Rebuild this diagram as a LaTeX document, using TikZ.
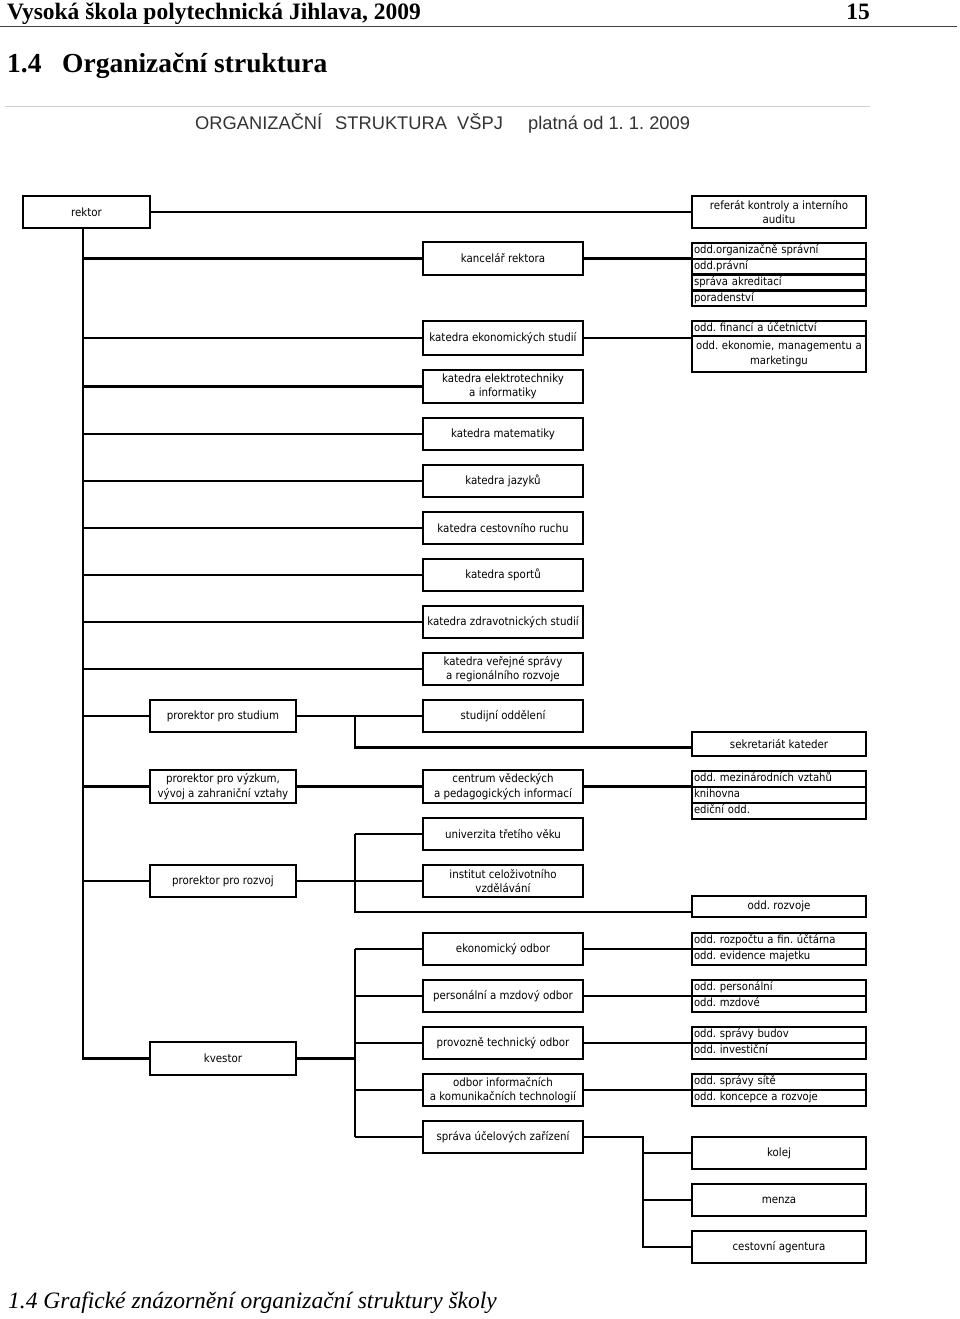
\documentclass[tikz,border=0pt]{standalone}
\usepackage{fontspec}
\setmainfont{Liberation Serif}
\newfontfamily\boxfont{DejaVu Sans Condensed}
\newfontfamily\arialf{Liberation Sans}
\frenchspacing
\begin{document}
\begin{tikzpicture}[x=1pt,y=-1pt,
  box/.style={draw, line width=2.7pt, rectangle, inner sep=1pt, align=center,
    font=\boxfont\fontsize{11.4}{14.5}\selectfont},
  mbox/.style={box, minimum width=160pt, minimum height=32pt},
  lbox/.style={box, minimum width=146pt, minimum height=32pt},
  rbox/.style={box, minimum width=174pt, minimum height=32pt},
  rowbox/.style={draw, line width=2.3pt, rectangle, minimum width=174pt, text width=170pt,
    align=left, inner xsep=2pt, inner ysep=0pt, text height=8.3pt, text depth=2.6pt,
    font=\boxfont\fontsize{11.2}{14.5}\selectfont},
  link/.style={line width=2.3pt},
  hdr/.style={anchor=base west, inner sep=0pt, font=\bfseries\fontsize{23.5}{28}\selectfont},
  sub/.style={anchor=base west, inner sep=0pt, text=black!80, font=\arialf\fontsize{18.3}{22}\selectfont}
]
\useasboundingbox (0,0) rectangle (960,1319);
\fill[white] (0,0) rectangle (960,1319);

% page header
\node[hdr] (head) at (7,20) {Vysoká škola polytechnická Jihlava, 2009};
\node[hdr, anchor=base east] (page) at (870,20) {15};
\draw[line width=1.3pt, black!75] (0,26.5) -- (957,26.5);
\node[hdr, font=\bfseries\fontsize{27.5}{32}\selectfont] (secnum) at (7,73) {1.4};
\node[hdr, font=\bfseries\fontsize{27.5}{32}\selectfont] (sectitle) at (62,73) {Organizační struktura};
\draw[line width=1pt, black!18] (5,107) -- (870,107);
\node[sub] (s1) at (195,130) {ORGANIZAČNÍ};
\node[sub] (s2) at (335,130) {STRUKTURA};
\node[sub] (s3) at (457,130) {VŠPJ};
\node[sub] (s4) at (528,130) {platná od 1. 1. 2009};

% boxes
\node[box, minimum width=127pt, minimum height=32pt] (rektor) at (86.5,212) {rektor};
\node[rbox] (ref) at (779,212) {referát kontroly a interního\\auditu};

\node[mbox, minimum height=33pt] (kanc) at (503,258.5) {kancelář rektora};
\node[rowbox, minimum height=15.75pt] (odd1a) at (779,251) {odd.organizačně správní};
\node[rowbox, minimum height=15.75pt] (odd1b) at (779,266.75) {odd.právní};
\node[rowbox, minimum height=15.75pt] (odd1c) at (779,282.5) {správa akreditací};
\node[rowbox, minimum height=15.75pt] (odd1d) at (779,298.25) {poradenství};

\node[mbox, minimum height=34pt] (kes) at (503,338) {katedra ekonomických studií};
\node[rowbox, minimum height=15pt] (odd2a) at (779,328.5) {odd. financí a účetnictví};
\node[rowbox, minimum height=36pt, align=center, text height=, text depth=] (odd2b) at (779,354) {odd. ekonomie, managementu a\\marketingu};

\node[mbox, minimum height=33pt] (kel) at (503,386.5) {katedra elektrotechniky\\a informatiky};
\node[mbox] (kmat) at (503,434) {katedra matematiky};
\node[mbox] (kjaz) at (503,481) {katedra jazyků};
\node[mbox] (kcr) at (503,528) {katedra cestovního ruchu};
\node[mbox] (ksp) at (503,575) {katedra sportů};
\node[mbox] (kzd) at (503,622) {katedra zdravotnických studií};
\node[mbox] (kvs) at (503,669) {katedra veřejné správy\\a regionálního rozvoje};

\node[lbox] (pstud) at (223,716) {prorektor pro studium};
\node[mbox] (stod) at (503,716) {studijní oddělení};
\node[rbox, minimum height=24pt] (sek) at (779,744) {sekretariát kateder};

\node[lbox, minimum height=33pt] (pvyz) at (223,786.5) {prorektor pro výzkum,\\vývoj a zahraniční vztahy};
\node[mbox, minimum height=33pt] (cvpi) at (503,786.5) {centrum vědeckých\\a pedagogických informací};
\node[rowbox, minimum height=16pt] (odd3a) at (779,779) {odd. mezinárodních vztahů};
\node[rowbox, minimum height=16pt] (odd3b) at (779,795) {knihovna};
\node[rowbox, minimum height=16pt] (odd3c) at (779,811) {ediční odd.};

\node[mbox] (u3v) at (503,834) {univerzita třetího věku};
\node[lbox] (proz) at (223,881) {prorektor pro rozvoj};
\node[mbox] (icv) at (503,881) {institut celoživotního\\vzdělávání};
\node[rbox, minimum height=21pt] (orozv) at (779,906.5) {odd. rozvoje};

\node[mbox] (eko) at (503,949) {ekonomický odbor};
\node[rowbox, minimum height=16pt] (odd4a) at (779,941) {odd. rozpočtu a fin. účtárna};
\node[rowbox, minimum height=16pt] (odd4b) at (779,957) {odd. evidence majetku};

\node[mbox] (pers) at (503,996) {personální a mzdový odbor};
\node[rowbox, minimum height=16pt] (odd5a) at (779,988) {odd. personální};
\node[rowbox, minimum height=16pt] (odd5b) at (779,1004) {odd. mzdové};

\node[mbox] (prov) at (503,1043) {provozně technický odbor};
\node[rowbox, minimum height=16pt] (odd6a) at (779,1035) {odd. správy budov};
\node[rowbox, minimum height=16pt] (odd6b) at (779,1051) {odd. investiční};

\node[lbox, minimum height=33pt] (kv) at (223,1058.5) {kvestor};

\node[mbox] (ikt) at (503,1090) {odbor informačních\\a komunikačních technologií};
\node[rowbox, minimum height=16pt] (odd7a) at (779,1082) {odd. správy sítě};
\node[rowbox, minimum height=16pt] (odd7b) at (779,1098) {odd. koncepce a rozvoje};

\node[mbox] (suz) at (503,1137) {správa účelových zařízení};
\node[rbox] (kolej) at (779,1153) {kolej};
\node[rbox] (menza) at (779,1200) {menza};
\node[rbox] (cag) at (779,1247) {cestovní agentura};

% connectors
\coordinate (T) at ([xshift=-3.5pt]rektor.south);
\draw[link] (T) |- (kv.west);
\foreach \n in {kanc,kes,kel,kmat,kjaz,kcr,ksp,kzd,kvs,pstud,pvyz,proz}
  \draw[link] (T |- \n.west) -- (\n.west);
\draw[link] (rektor.east) -- (ref.west);
\draw[link] (kanc.east) -- (kanc.east -| odd1a.west);
\draw[link] (kes.east) -- (kes.east -| odd2a.west);

\draw[link] (pstud.east) -- (stod.west);
\coordinate (S) at (355,716);
\draw[link] (S) |- ([yshift=-3.5pt]sek.west);

\draw[link] (pvyz.east) -- (cvpi.west);
\draw[link] (cvpi.east) -- (cvpi.east -| odd3a.west);

\draw[link] (proz.east) -- (icv.west);
\coordinate (R) at (355,881);
\draw[link] (R |- u3v.west) -- (u3v.west);
\draw[link] (R |- u3v.west) |- ([yshift=-5.5pt]orozv.west);

\coordinate (Q) at (355,1058.5);
\draw[link] (kv.east) -- (Q);
\draw[link] (Q |- eko.west) -- (Q |- suz.west);
\foreach \n in {eko,pers,prov,ikt,suz}
  \draw[link] (Q |- \n.west) -- (\n.west);
\draw[link] (eko.east) -- (eko.east -| odd4a.west);
\draw[link] (pers.east) -- (pers.east -| odd5a.west);
\draw[link] (prov.east) -- (prov.east -| odd6a.west);
\draw[link] (ikt.east) -- (ikt.east -| odd7a.west);

\coordinate (U) at (643,1137);
\draw[link] (suz.east) -- (U) |- (cag.west);
\draw[link] (U |- kolej.west) -- (kolej.west);
\draw[link] (U |- menza.west) -- (menza.west);

% caption
\node[anchor=base west, inner sep=0pt, font=\itshape\fontsize{23.5}{28}\selectfont] (cap) at (8,1308) {1.4 Grafické znázornění organizační struktury školy};
\end{tikzpicture}
\end{document}
